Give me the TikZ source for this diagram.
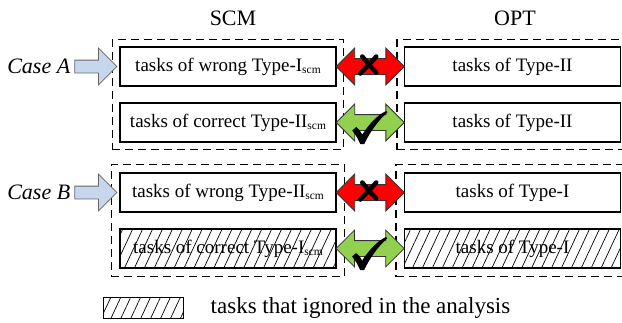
\documentclass[tikz,border=0pt]{standalone}
\usepackage{fontspec}
\setmainfont{Liberation Serif}
\usetikzlibrary{positioning,fit,calc,shapes.arrows,patterns.meta}

\definecolor{inblue}{RGB}{198,214,236}
\definecolor{badred}{RGB}{255,0,0}
\definecolor{okgreen}{RGB}{146,208,80}

\newcommand{\scm}{\raisebox{-0.3ex}{\fontsize{11.5}{12}\selectfont scm}}
% tick and cross, drawn round the centre of a node
\newcommand{\drawtick}[1]{%
  \fill[shift={(#1)}] (-18,8) -- (-14,4.5) .. controls (-11,7) .. (-8,12)
    .. controls (0,0) and (8,-8) .. (16,-11.5) -- (17,-10)
    .. controls (8,-2) and (0,9) .. (-6,21.5) -- (-10,21.5)
    .. controls (-13,15) .. cycle;}
\newcommand{\drawcross}[1]{%
  \draw[line width=4.5pt,line cap=round,shift={(#1)}]
    (-8,-10) .. controls (-3,-4) and (1,1) .. (6,6)
    (6,-10) .. controls (1,-4) and (-4,1) .. (-10,7);}

\begin{document}
\begin{tikzpicture}[x=1pt,y=-1pt,
    task node/.style={draw,line width=1.2pt,minimum width=216pt,minimum height=39pt,inner sep=0pt,font=\fontsize{19}{21}\selectfont},
    ignored/.style={pattern={Lines[angle=65,distance=9pt,line width=0.7pt]}},
    group box/.style={draw,dash pattern=on 8pt off 5pt,line width=1.2pt,inner sep=7pt},
    in arrow/.style={single arrow,draw=gray!80!black,fill=inblue,line width=0.8pt,minimum height=42pt,inner xsep=0pt,inner ysep=6pt,single arrow head extend=12pt},
    swap arrow/.style={double arrow,draw=black!80,line width=0.8pt,minimum height=68pt,inner xsep=0pt,inner ysep=7.5pt,double arrow head extend=10.5pt},
    column head/.style={font=\fontsize{22}{24}\selectfont},
    case label/.style={font=\fontsize{22}{24}\selectfont\itshape,inner sep=0pt}
  ]
  \useasboundingbox (0,0) rectangle (622,322);

  \node[column head] (scm) at (233,18) {SCM};
  \node[column head] (opt) at (515,18) {OPT};

  % case A
  \node[task node] (scmA1) at (228,66.5) {tasks of wrong Type-I\scm};
  \node[task node] (scmA2) at (228,122.5) {tasks of correct Type-II\scm};
  \node[task node] (optA1) at (512.5,66.5) {tasks of Type-II};
  \node[task node] (optA2) at (512.5,122.5) {tasks of Type-II};
  \node[group box,fit=(scmA1)(scmA2)] (scmA) {};
  \node[group box,fit=(optA1)(optA2)] (optA) {};

  % case B
  \node[task node] (scmB1) at (228,192.5) {tasks of wrong Type-II\scm};
  \node[task node,ignored] (scmB2) at (228,248.5) {tasks of correct Type-I\scm};
  \node[task node] (optB1) at (512.5,192.5) {tasks of Type-I};
  \node[task node,ignored] (optB2) at (512.5,248.5) {tasks of Type-I};
  \node[group box,fit=(scmB1)(scmB2),inner sep=8pt] (scmB) {};
  \node[group box,fit=(optB1)(optB2),inner sep=8pt] (optB) {};

  % arrows between the columns
  \node[swap arrow,fill=badred] (badA) at ($(scmA1.east)!0.5!(optA1.west)$) {};
  \node[swap arrow,fill=okgreen] (okA) at ($(scmA2.east)!0.5!(optA2.west)$) {};
  \node[swap arrow,fill=badred] (badB) at ($(scmB1.east)!0.5!(optB1.west)$) {};
  \node[swap arrow,fill=okgreen] (okB) at ($(scmB2.east)!0.5!(optB2.west)$) {};
  \drawcross{badA}
  \drawtick{okA}
  \drawcross{badB}
  \drawtick{okB}

  % case labels
  \node[in arrow,anchor=tip] (inA) at ([xshift=-2pt]scmA1.west) {};
  \node[in arrow,anchor=tip] (inB) at ([xshift=-2pt]scmB1.west) {};
  \node[case label,left=4pt of inA.tail] (caseA) {Case A};
  \node[case label,left=4pt of inB.tail] (caseB) {Case B};

  % legend
  \node[draw,line width=1pt,ignored,minimum width=80pt,minimum height=21pt,inner sep=0pt] (key) at (143,307.5) {};
  \node[right=27pt of key,inner sep=0pt,font=\fontsize{23}{25}\selectfont] (keytext) {tasks that ignored in the analysis};
\end{tikzpicture}
\end{document}
